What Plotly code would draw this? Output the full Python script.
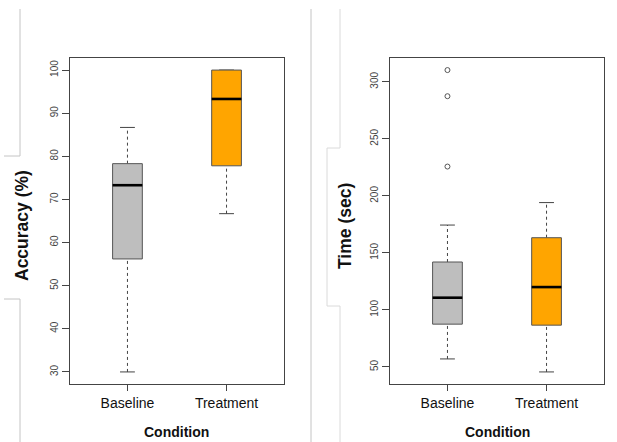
import plotly.graph_objects as go

W, H = 617, 442

conditions = ["Baseline", "Treatment"]
positions = [1, 2]
fill_colors = ["#BEBEBE", "#FFA500"]

# Accuracy (%) five-number summaries
acc_low = [30.0, 66.7]
acc_q1 = [56.2, 77.8]
acc_med = [73.3, 93.3]
acc_q3 = [78.3, 100.0]
acc_high = [86.7, 100.0]
acc_out_x = []
acc_out_y = []

# Time (sec) five-number summaries
time_low = [57.0, 45.6]
time_q1 = [87.5, 86.6]
time_med = [110.7, 120.0]
time_q3 = [142.0, 163.3]
time_high = [174.4, 194.1]
time_out_x = [1, 1, 1]
time_out_y = [225.7, 287.4, 310.3]

acc_ticks = [30, 40, 50, 60, 70, 80, 90, 100]
time_ticks = [50, 100, 150, 200, 250, 300]

BOXW = 0.3
CAPW = 0.15
EDGE = "#555555"
FONT = "Liberation Sans, Arial, sans-serif"

fig = go.Figure()


def add_panel(xa, ya, low, q1, med, q3, high, ox, oy):
    for i, p in enumerate(positions):
        # whiskers (dashed)
        fig.add_trace(go.Scatter(x=[p, p], y=[low[i], q1[i]], mode="lines",
                                 line=dict(color="#444444", width=1, dash="3px,3px"),
                                 xaxis=xa, yaxis=ya, showlegend=False, hoverinfo="skip"))
        fig.add_trace(go.Scatter(x=[p, p], y=[q3[i], high[i]], mode="lines",
                                 line=dict(color="#444444", width=1, dash="3px,3px"),
                                 xaxis=xa, yaxis=ya, showlegend=False, hoverinfo="skip"))
        # staples
        for v in (low[i], high[i]):
            fig.add_trace(go.Scatter(x=[p - CAPW / 2, p + CAPW / 2], y=[v, v], mode="lines",
                                     line=dict(color="#444444", width=1),
                                     xaxis=xa, yaxis=ya, showlegend=False, hoverinfo="skip"))
        # box
        fig.add_trace(go.Scatter(
            x=[p - BOXW / 2, p + BOXW / 2, p + BOXW / 2, p - BOXW / 2, p - BOXW / 2],
            y=[q1[i], q1[i], q3[i], q3[i], q1[i]],
            mode="lines", fill="toself", fillcolor=fill_colors[i],
            line=dict(color=EDGE, width=1),
            xaxis=xa, yaxis=ya, showlegend=False, hoverinfo="skip"))
        # median
        fig.add_trace(go.Scatter(x=[p - BOXW / 2, p + BOXW / 2], y=[med[i], med[i]], mode="lines",
                                 line=dict(color="#000000", width=2.6),
                                 xaxis=xa, yaxis=ya, showlegend=False, hoverinfo="skip"))
    if ox:
        fig.add_trace(go.Scatter(x=ox, y=oy, mode="markers",
                                 marker=dict(symbol="circle-open", size=5, color=EDGE,
                                             line=dict(width=1, color=EDGE)),
                                 xaxis=xa, yaxis=ya, showlegend=False, hoverinfo="skip"))


add_panel("x", "y", acc_low, acc_q1, acc_med, acc_q3, acc_high, acc_out_x, acc_out_y)
add_panel("x2", "y2", time_low, time_q1, time_med, time_q3, time_high, time_out_x, time_out_y)


def px_x(v):
    return v / W


def px_y(v):
    return 1 - v / H


ydom = [px_y(384), px_y(58)]
axis_common = dict(showline=True, mirror=True, linecolor="#444444", linewidth=1,
                   showgrid=False, zeroline=False, ticks="outside", tickcolor="#444444")

acc_pad = (max(acc_high) - min(acc_low)) * 0.04
time_all = time_low + time_high + time_out_y
time_pad = (max(time_all) - min(time_all)) * 0.04

fig.update_layout(
    width=W, height=H, margin=dict(l=0, r=0, t=0, b=0),
    paper_bgcolor="white", plot_bgcolor="white",
    font=dict(family=FONT, color="#222222"),
    xaxis=dict(domain=[px_x(70), px_x(284)], range=[0.42, 2.58], tickvals=positions,
               ticktext=conditions, ticklen=6, tickfont=dict(size=14, color="#111111"),
               **axis_common),
    yaxis=dict(domain=ydom, range=[min(acc_low) - acc_pad, max(acc_high) + acc_pad],
               tickvals=acc_ticks, tickangle=-90, ticklen=7,
               tickfont=dict(size=10, color="#444444"), **axis_common),
    xaxis2=dict(domain=[px_x(390), px_x(604)], range=[0.42, 2.58], tickvals=positions,
                ticktext=conditions, ticklen=6, tickfont=dict(size=14, color="#111111"),
                anchor="y2", **axis_common),
    yaxis2=dict(domain=ydom, range=[min(time_all) - time_pad, max(time_all) + time_pad],
                tickvals=time_ticks, tickangle=-90, ticklen=7,
                tickfont=dict(size=10, color="#444444"), anchor="x2", **axis_common),
)

ann = [
    dict(text="<b>Accuracy (%)</b>", x=px_x(22), y=px_y(226), textangle=-90, size=17.5),
    dict(text="<b>Time (sec)</b>", x=px_x(345), y=px_y(226), textangle=-90, size=17.5),
    dict(text="<b>Condition</b>", x=px_x(177), y=px_y(432), textangle=0, size=14),
    dict(text="<b>Condition</b>", x=px_x(497), y=px_y(432), textangle=0, size=14),
]
for a in ann:
    fig.add_annotation(text=a["text"], x=a["x"], y=a["y"], xref="paper", yref="paper",
                       showarrow=False, textangle=a["textangle"], xanchor="center", yanchor="middle",
                       font=dict(size=a["size"], color="#111111", family=FONT))

# decorative light-gray frame lines around the y-axis title areas
light = "#C4C4C4"
lighter = "#DADADA"
segments = [
    ((20, 9), (20, 156), light), ((4, 156), (20, 156), light),
    ((4, 299), (20, 299), light), ((20, 299), (20, 442), light),
    ((311, 9), (311, 442), light),
    ((340, 9), (340, 148), lighter), ((327, 148), (340, 148), lighter),
    ((327, 148), (327, 306), lighter), ((327, 306), (340, 306), lighter),
    ((340, 306), (340, 442), lighter),
]
for (x0, y0), (x1, y1), c in segments:
    fig.add_shape(type="line", xref="paper", yref="paper",
                  x0=px_x(x0), y0=px_y(y0), x1=px_x(x1), y1=px_y(y1),
                  line=dict(color=c, width=1))

fig.write_html("out.html", config={"displayModeBar": False},
               post_script="document.body.style.margin='0px';document.body.style.overflow='hidden';")
